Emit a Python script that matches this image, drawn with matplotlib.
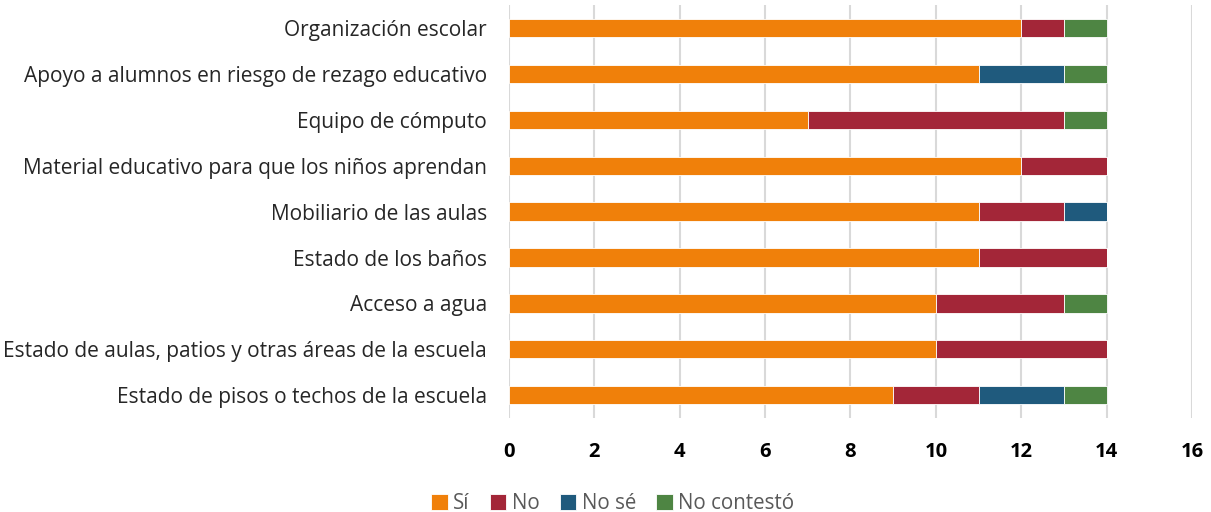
import numpy as np
import matplotlib.pyplot as plt

categorias = [
    "Organización escolar",
    "Apoyo a alumnos en riesgo de rezago educativo",
    "Equipo de cómputo",
    "Material educativo para que los niños aprendan",
    "Mobiliario de las aulas",
    "Estado de los baños",
    "Acceso a agua",
    "Estado de aulas, patios y otras áreas de la escuela",
    "Estado de pisos o techos de la escuela",
]
si = [12, 11, 7, 12, 11, 11, 10, 10, 9]
no = [1, 0, 6, 2, 2, 3, 3, 4, 2]
no_se = [0, 2, 0, 0, 1, 0, 0, 0, 2]
no_contesto = [1, 1, 1, 0, 0, 0, 1, 0, 1]

series = ["Sí", "No", "No sé", "No contestó"]
colores = ["#F0800A", "#A32638", "#1F5A7D", "#4E8543"]

plt.rcParams['font.family'] = ['Open Sans', 'DejaVu Sans']

fig = plt.figure(figsize=(12.11, 5.12), dpi=100)
ax = fig.add_axes([0.4203, 0.1836, 0.564, 0.806])

y = np.arange(len(categorias))[::-1]
left = np.zeros(len(categorias))
for nombre, vals, c in zip(series, [si, no, no_se, no_contesto], colores):
    vals = np.array(vals, dtype=float)
    ax.barh(y, vals, left=left, height=0.4, color=c, edgecolor="white",
            linewidth=0.6, label=nombre, zorder=3)
    left += vals

ax.set_xlim(0, 16)
ax.set_ylim(-0.5, len(categorias) - 0.5)
ax.set_xticks(range(0, 17, 2))
ax.set_yticks(y)
ax.set_yticklabels(categorias, fontsize=15, color="#262626")
for lab in ax.get_xticklabels():
    lab.set_fontweight("bold")
    lab.set_fontsize(14.5)
    lab.set_color("black")
ax.tick_params(axis="both", length=0)
ax.tick_params(axis="y", pad=16)
ax.tick_params(axis="x", pad=17)
ax.grid(axis="x", color="#D9D9D9", linewidth=1.5, zorder=0)
for s in ax.spines.values():
    s.set_visible(False)

fig.legend(loc="lower center", bbox_to_anchor=(0.506, -0.04), ncol=4, frameon=False,
           fontsize=14.8, handlelength=0.8, handleheight=0.8, handletextpad=0.25,
           columnspacing=1.0, labelcolor="#595959")

fig.savefig("out.png", dpi=100)
